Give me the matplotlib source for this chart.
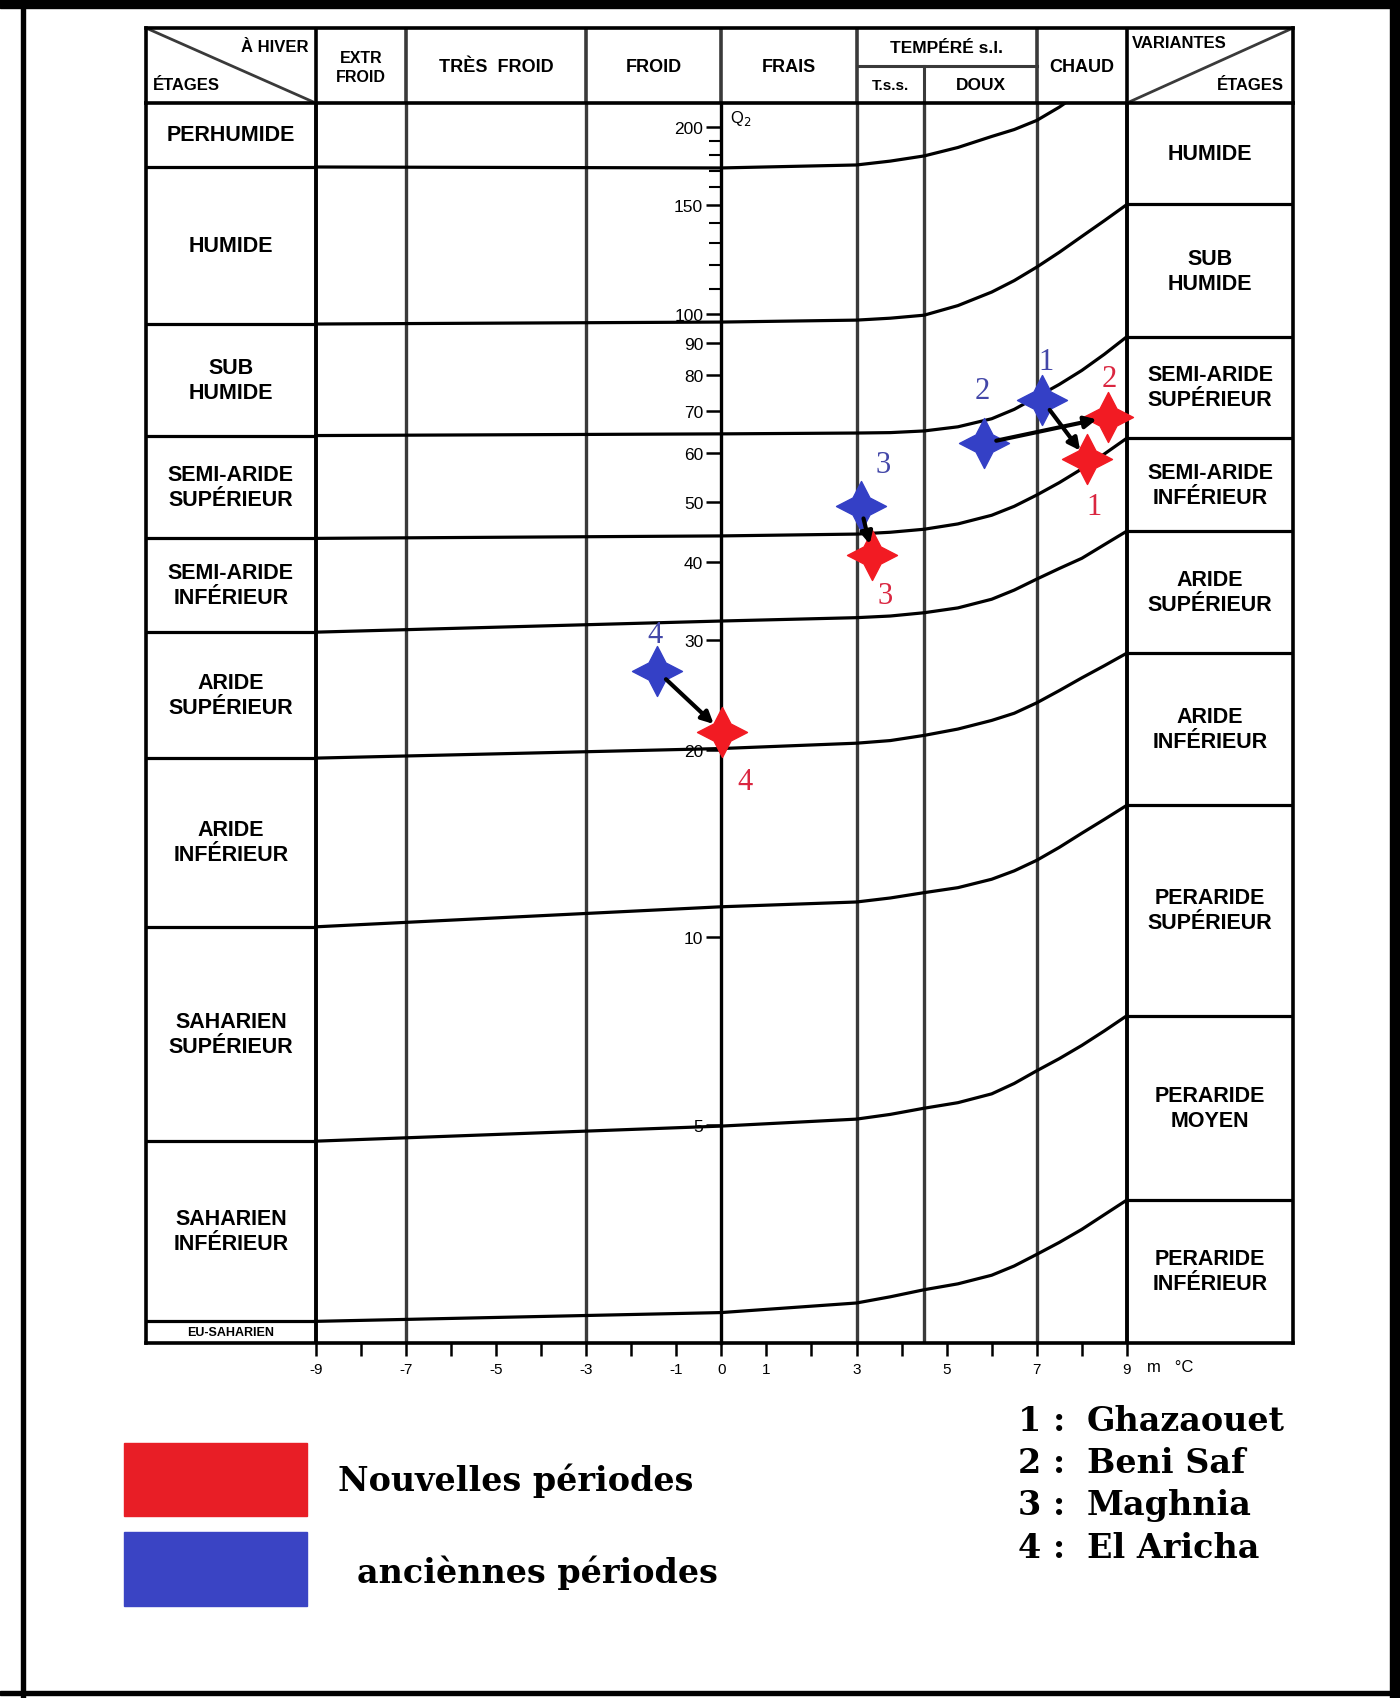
import matplotlib
matplotlib.use('Agg')
import matplotlib.pyplot as plt
from matplotlib.path import Path
from matplotlib.patches import Rectangle
from matplotlib.ticker import NullFormatter
import numpy as np

plt.rcParams['font.family'] = ['Liberation Sans', 'DejaVu Sans']

# ---- values ----
# m (mean minimum of the coldest month, °C) sampled along each stage boundary
curve_m = [-9, 0, 3, 3.75, 4.5, 5.25, 6, 6.5, 7, 7.5, 8, 8.5, 9]
# Q2 of each boundary, top to bottom
q_perhum_hum = [172.4, 171.8, 173.7, 176.2, 179.6, 185.3, 193.0, 198.0, 204.8, 215.1, 228.0, 241.0, 255.0]
q_hum_subhum = [96.5, 97.2, 97.9, 98.6, 99.7, 103.3, 108.6, 113.3, 119.1, 125.8, 133.4, 141.4, 150.1]
q_subhum_sasup = [63.9, 64.3, 64.5, 64.6, 65.0, 66.0, 68.0, 70.4, 73.7, 77.2, 81.3, 86.3, 92.1]
q_sasup_sainf = [43.7, 44.1, 44.4, 44.7, 45.2, 46.1, 47.6, 49.2, 51.3, 53.7, 56.5, 59.7, 63.3]
q_sainf_arsup = [30.9, 32.2, 32.6, 32.8, 33.2, 33.8, 34.9, 36.1, 37.6, 39.1, 40.6, 42.7, 44.9]
q_arsup_arinf = [19.4, 20.1, 20.5, 20.7, 21.1, 21.6, 22.3, 22.9, 23.8, 24.9, 26.1, 27.3, 28.6]
q_arinf_sahsup = [10.4, 11.2, 11.4, 11.57, 11.8, 12.02, 12.4, 12.79, 13.3, 13.95, 14.7, 15.47, 16.3]
q_sahsup_sahinf = [4.71, 4.98, 5.11, 5.20, 5.32, 5.43, 5.61, 5.83, 6.11, 6.39, 6.71, 7.08, 7.49]
q_sahinf_eusah = [2.42, 2.50, 2.59, 2.65, 2.72, 2.78, 2.87, 2.97, 3.10, 3.24, 3.40, 3.59, 3.79]
boundaries = [q_perhum_hum, q_hum_subhum, q_subhum_sasup, q_sasup_sainf,
              q_sainf_arsup, q_arsup_arinf, q_arinf_sahsup, q_sahsup_sahinf,
              q_sahinf_eusah]

left_stages = ["PERHUMIDE", "HUMIDE", "SUB\nHUMIDE", "SEMI-ARIDE\nSUPÉRIEUR",
               "SEMI-ARIDE\nINFÉRIEUR", "ARIDE\nSUPÉRIEUR", "ARIDE\nINFÉRIEUR",
               "SAHARIEN\nSUPÉRIEUR", "SAHARIEN\nINFÉRIEUR", "EU-SAHARIEN"]
right_stages = ["HUMIDE", "SUB\nHUMIDE", "SEMI-ARIDE\nSUPÉRIEUR", "SEMI-ARIDE\nINFÉRIEUR",
                "ARIDE\nSUPÉRIEUR", "ARIDE\nINFÉRIEUR", "PERARIDE\nSUPÉRIEUR",
                "PERARIDE\nMOYEN", "PERARIDE\nINFÉRIEUR"]

winter_edges = [-9, -7, -3, 0, 3, 7, 9]
winter_names = ["EXTR\nFROID", "TRÈS  FROID", "FROID", "FRAIS", "TEMPÉRÉ s.l.", "CHAUD"]

q2_ticks = [5, 10, 20, 30, 40, 50, 60, 70, 80, 90, 100, 150, 200]
q2_minor = [110, 120, 130, 140, 160, 170, 180, 190]
m_ticks = list(range(-9, 10))
m_labels = ['-9', '', '-7', '', '-5', '', '-3', '', '-1', '0', '1', '', '3', '', '5', '', '7', '', '9']

stations = ["Ghazaouet", "Beni Saf", "Maghnia", "El Aricha"]
old_m = [7.12, 5.83, 3.09, -1.43]
old_q = [72.9, 62.1, 49.2, 26.8]
new_m = [8.11, 8.57, 3.35, 0.01]
new_q = [58.5, 68.4, 41.1, 21.4]

RED = '#F21B23'
BLUE = '#3440C6'
RED_TXT = '#DA2640'
BLUE_TXT = '#4347A8'
LEG_RED = '#E81E26'
LEG_BLUE = '#3A44C4'

W, H = 1400, 1699
fig = plt.figure(figsize=(14, 16.99), dpi=100)
fig.patch.set_facecolor('white')

X0, X1 = -12.765, 12.685
Q_BOT, Q_TOP = 2.234, 218.4

# ---- main diagram ----
ax = fig.add_axes([146 / W, 1 - 1344 / H, 1147 / W, 1240 / H])
ax.set_yscale('log')
ax.set_xlim(X0, X1)
ax.set_ylim(Q_BOT, Q_TOP)

ax.spines['top'].set_visible(False)
ax.spines['left'].set_position(('data', 0))
ax.spines['left'].set_linewidth(2.4)
ax.spines['left'].set_zorder(3)
for s in ['right', 'bottom']:
    ax.spines[s].set_linewidth(2.6)
ax.axvline(X0, color='black', lw=2.6, clip_on=False)

ax.set_yticks(q2_ticks, labels=[str(v) for v in q2_ticks])
ax.set_yticks(q2_minor, minor=True)
ax.yaxis.set_minor_formatter(NullFormatter())
ax.tick_params(axis='y', which='major', direction='out', length=11, width=1.8,
               pad=2, labelsize=12.5)
ax.tick_params(axis='y', which='minor', direction='out', length=9, width=1.5)
for lbl in ax.get_yticklabels():
    lbl.set_bbox(dict(facecolor='white', edgecolor='none', pad=0.5))

ax.set_xticks(m_ticks, labels=m_labels)
ax.tick_params(axis='x', direction='out', length=9, width=1.8, pad=5, labelsize=11)
ax.text(9.45, -0.019, "m   °C", transform=ax.get_xaxis_transform(),
        ha='left', va='center', fontsize=12)

# vertical separations
for m in [-7, -3, 3, 4.5, 7]:
    ax.axvline(m, color='#3a3a3a', lw=2.4, zorder=1)
for m in [-9, 9]:
    ax.axvline(m, color='black', lw=2.8, zorder=1)

# stage boundaries
for q in boundaries:
    ax.plot(curve_m, q, color='black', lw=2.3, zorder=2, solid_joinstyle='round')
    ax.hlines(q[0], X0, -9, color='black', lw=2.3, zorder=2)
    ax.hlines(q[-1], 9, X1, color='black', lw=2.3, zorder=2)

# stage names in side columns
lb = [Q_TOP] + [q[0] for q in boundaries] + [Q_BOT]
for i, name in enumerate(left_stages):
    yc = np.sqrt(lb[i] * lb[i + 1])
    fs = 9 if name == "EU-SAHARIEN" else 15.5
    ax.text((X0 - 9) / 2, yc, name, ha='center', va='center', fontsize=fs,
            fontweight='bold', linespacing=1.25)
rb = [Q_TOP] + [q[-1] for q in boundaries[1:]] + [Q_BOT]
for i, name in enumerate(right_stages):
    yc = np.sqrt(rb[i] * rb[i + 1])
    ax.text((9 + X1) / 2, yc, name, ha='center', va='center', fontsize=15.5,
            fontweight='bold', linespacing=1.25)

ax.text(0.2, 207, "Q$_2$", ha='left', va='center', fontsize=12)

# ---- stations: old (blue) -> new (red) ----
r = 0.34
star = Path([(0, 1), (r, r), (1, 0), (r, -r), (0, -1), (-r, -r), (-1, 0), (-r, r), (0, 1)],
            closed=True)
ax.plot(old_m, old_q, ls='none', marker=star, ms=36, color=BLUE, mec=BLUE, zorder=5)
ax.plot(new_m, new_q, ls='none', marker=star, ms=36, color=RED, mec=RED, zorder=5)
for i in range(len(stations)):
    ax.annotate('', xy=(new_m[i], new_q[i]), xytext=(old_m[i], old_q[i]),
                arrowprops=dict(arrowstyle='-|>,head_length=0.7,head_width=0.35',
                                color='black', lw=3, shrinkA=9, shrinkB=8), zorder=6)

old_off = [(3, 28), (-1, 38), (16, 30), (-1, 26)]
new_off = [(5, -34), (1, 28), (9, -29), (17, -36)]
for i in range(len(stations)):
    ax.annotate(str(i + 1), (old_m[i], old_q[i]), xytext=old_off[i], textcoords='offset points',
                ha='center', va='center', color=BLUE_TXT, fontsize=22,
                family='Liberation Serif', zorder=7)
    ax.annotate(str(i + 1), (new_m[i], new_q[i]), xytext=new_off[i], textcoords='offset points',
                ha='center', va='center', color=RED_TXT, fontsize=22,
                family='Liberation Serif', zorder=7)

# ---- header row ----
hx = fig.add_axes([146 / W, 1 - 104 / H, 1147 / W, 75 / H])
hx.set_xlim(X0, X1)
hx.set_ylim(0, 1)
hx.set_xticks([])
hx.set_yticks([])
for s in hx.spines.values():
    s.set_linewidth(2.6)
for m in winter_edges:
    hx.axvline(m, color='black' if abs(m) == 9 else '#3a3a3a', lw=2.6)
hx.plot([3, 7], [0.5, 0.5], color='#3a3a3a', lw=2.2)
hx.plot([4.5, 4.5], [0, 0.5], color='#3a3a3a', lw=2.2)
hx.plot([X0, -9], [1, 0], color='#3a3a3a', lw=2)
hx.plot([9, X1], [0, 1], color='#3a3a3a', lw=2)

for i, name in enumerate(winter_names):
    xc = (winter_edges[i] + winter_edges[i + 1]) / 2
    if name.startswith("TEMP"):
        hx.text(xc, 0.74, name, ha='center', va='center', fontsize=12.5, fontweight='bold')
    else:
        hx.text(xc, 0.48, name, ha='center', va='center',
                fontsize=11.5 if '\n' in name else 13, fontweight='bold', linespacing=1.3)
hx.text(3.75, 0.24, "T.s.s.", ha='center', va='center', fontsize=11, fontweight='bold')
hx.text(5.75, 0.24, "DOUX", ha='center', va='center', fontsize=12.5, fontweight='bold')
hx.text(-9.15, 0.76, "À HIVER", ha='right', va='center', fontsize=12, fontweight='bold')
hx.text(X0 + 0.15, 0.25, "ÉTAGES", ha='left', va='center', fontsize=12, fontweight='bold')
hx.text(9.1, 0.8, "VARIANTES", ha='left', va='center', fontsize=12, fontweight='bold')
hx.text(X1 - 0.2, 0.25, "ÉTAGES", ha='right', va='center', fontsize=12, fontweight='bold')

# ---- legends ----
serif = {'family': 'DejaVu Serif', 'weight': 'bold', 'size': 24}
fig.add_artist(Rectangle((124 / W, 1 - 1517 / H), 183 / W, 73 / H,
                         transform=fig.transFigure, color=LEG_RED))
fig.add_artist(Rectangle((124 / W, 1 - 1607 / H), 183 / W, 74 / H,
                         transform=fig.transFigure, color=LEG_BLUE))
fig.text(338 / W, 1 - 1481 / H, "Nouvelles périodes", ha='left', va='center', **serif)
fig.text(357 / W, 1 - 1573 / H, "anciènnes périodes", ha='left', va='center', **serif)

for i, name in enumerate(stations):
    y = 1 - (1422 + i * 42) / H
    fig.text(1018 / W, y, f"{i + 1} :", ha='left', va='center', **serif)
    fig.text(1087 / W, y, name, ha='left', va='center', **serif)

# ---- outer frame ----
fig.add_artist(Rectangle((0, 1 - 9 / H), 1, 9 / H, transform=fig.transFigure, color='black'))
fig.add_artist(Rectangle((1390 / W, 0), 10 / W, 1, transform=fig.transFigure, color='black'))
fig.add_artist(Rectangle((21 / W, 0), 4 / W, 1, transform=fig.transFigure, color='black'))
fig.add_artist(Rectangle((0, 1 - 1696 / H), 1, 4 / H, transform=fig.transFigure, color='black'))

fig.savefig('out.png', dpi=100)
plt.close(fig)
